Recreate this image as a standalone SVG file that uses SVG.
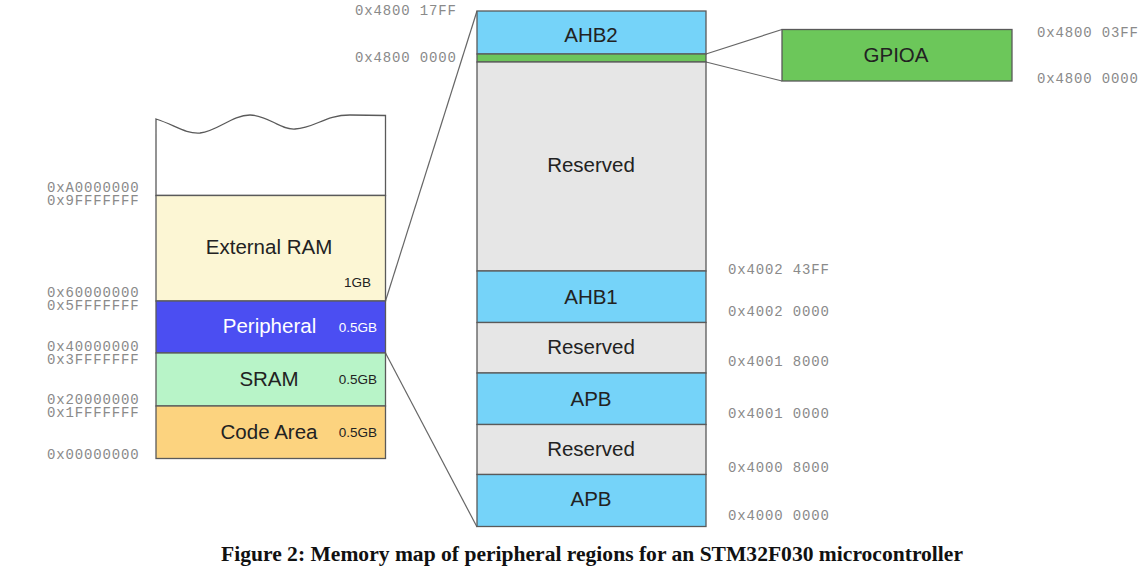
<svg xmlns="http://www.w3.org/2000/svg" width="1145" height="572" viewBox="0 0 1145 572">
<style>
.addr{font-family:"Liberation Mono","DejaVu Sans Mono",monospace;font-size:14px;letter-spacing:0.85px;fill:#8a8a8a}
.lbl{font-family:"Liberation Sans",Arial,sans-serif;font-size:20.5px;fill:#222;text-anchor:middle}
.sz{font-family:"Liberation Sans",Arial,sans-serif;font-size:13.5px;fill:#222;text-anchor:end}
.box{stroke:#5a5a5a;stroke-width:1.3}
.conn{stroke:#666;stroke-width:1.2;fill:none}
.cap{font-family:"Liberation Serif","Times New Roman",serif;font-weight:bold;font-size:20.5px;fill:#111;text-anchor:middle}
</style>
<rect width="1145" height="572" fill="#fff"/>
<g id="connectors">
<line class="conn" x1="385.5" y1="301" x2="477" y2="11"/>
<line class="conn" x1="385.5" y1="353" x2="477" y2="527"/>
<line class="conn" x1="706" y1="54" x2="782" y2="29.5"/>
<line class="conn" x1="706" y1="62" x2="782" y2="81"/>
</g>
<g id="unmapped">
<path class="box" fill="#fff" d="M156,119 C175,125 185,134 200,133 C218,131 232,115 250,115 C268,115 280,130 295,129 C315,128 325,115 350,115 L385.5,115.5 L385.5,195.5 L156,195.5 Z"/>
</g>
<g id="external-ram">
<rect class="box" x="156" y="195.5" width="229.5" height="105.5" fill="#fcf6d4"/>
<text class="lbl" x="269" y="254">External RAM</text>
<text class="sz" x="371" y="287">1GB</text>
</g>
<g id="peripheral">
<rect class="box" x="156" y="301" width="229.5" height="52" fill="#4b4ef2"/>
<text class="lbl" x="269.5" y="333" style="fill:#fff">Peripheral</text>
<text class="sz" x="377" y="332" style="fill:#fff">0.5GB</text>
</g>
<g id="sram">
<rect class="box" x="156" y="353" width="229.5" height="53" fill="#b8f4c8"/>
<text class="lbl" x="269" y="386">SRAM</text>
<text class="sz" x="377" y="384">0.5GB</text>
</g>
<g id="code-area">
<rect class="box" x="156" y="406" width="229.5" height="52.5" fill="#fcd37f"/>
<text class="lbl" x="269" y="439">Code Area</text>
<text class="sz" x="377" y="437">0.5GB</text>
</g>
<g id="left-addresses">
<text class="addr" x="47" y="192">0xA0000000</text>
<text class="addr" x="47" y="205">0x9FFFFFFF</text>
<text class="addr" x="47" y="297">0x60000000</text>
<text class="addr" x="47" y="310">0x5FFFFFFF</text>
<text class="addr" x="47" y="351">0x40000000</text>
<text class="addr" x="47" y="364">0x3FFFFFFF</text>
<text class="addr" x="47" y="404">0x20000000</text>
<text class="addr" x="47" y="417">0x1FFFFFFF</text>
<text class="addr" x="47" y="459">0x00000000</text>
</g>
<g id="ahb2">
<rect class="box" x="477" y="11" width="229" height="43" fill="#75d3f9"/>
<text class="lbl" x="591" y="42">AHB2</text>
</g>
<g id="gpioa-strip">
<rect class="box" x="477" y="54" width="229" height="8" fill="#6cc55b"/>
</g>
<g id="reserved-1">
<rect class="box" x="477" y="62" width="229" height="209" fill="#e6e6e6"/>
<text class="lbl" x="591" y="172">Reserved</text>
</g>
<g id="ahb1">
<rect class="box" x="477" y="271" width="229" height="51.5" fill="#75d3f9"/>
<text class="lbl" x="591" y="304">AHB1</text>
</g>
<g id="reserved-2">
<rect class="box" x="477" y="322.5" width="229" height="50.5" fill="#e6e6e6"/>
<text class="lbl" x="591" y="354">Reserved</text>
</g>
<g id="apb-1">
<rect class="box" x="477" y="373" width="229" height="51.5" fill="#75d3f9"/>
<text class="lbl" x="591" y="406">APB</text>
</g>
<g id="reserved-3">
<rect class="box" x="477" y="424.5" width="229" height="50" fill="#e6e6e6"/>
<text class="lbl" x="591" y="456">Reserved</text>
</g>
<g id="apb-2">
<rect class="box" x="477" y="474.5" width="229" height="52" fill="#75d3f9"/>
<text class="lbl" x="591" y="506">APB</text>
</g>
<g id="mid-addresses">
<text class="addr" x="355" y="15">0x4800 17FF</text>
<text class="addr" x="355" y="62">0x4800 0000</text>
<text class="addr" x="728" y="274">0x4002 43FF</text>
<text class="addr" x="728" y="316">0x4002 0000</text>
<text class="addr" x="728" y="366">0x4001 8000</text>
<text class="addr" x="728" y="418">0x4001 0000</text>
<text class="addr" x="728" y="472">0x4000 8000</text>
<text class="addr" x="728" y="520">0x4000 0000</text>
</g>
<g id="gpioa">
<rect class="box" x="782" y="29.5" width="230" height="51.5" fill="#6cc75a"/>
<text class="lbl" x="896" y="62">GPIOA</text>
</g>
<g id="gpioa-addresses">
<text class="addr" x="1037" y="37">0x4800 03FF</text>
<text class="addr" x="1037" y="83">0x4800 0000</text>
</g>
<text class="cap" x="592" y="561" textLength="742" lengthAdjust="spacingAndGlyphs">Figure 2: Memory map of peripheral regions for an STM32F030 microcontroller</text>
</svg>
